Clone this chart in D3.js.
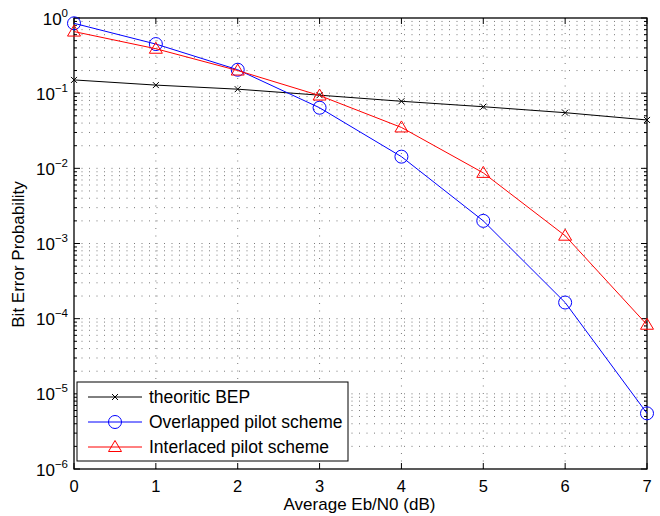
<!DOCTYPE html>
<html>
<head>
<meta charset="utf-8">
<script src="https://cdn.jsdelivr.net/npm/d3@7"></script>
<style>
  body { margin: 0; background: #fff; }
  text { font-family: "Liberation Sans", Arial, sans-serif; }
</style>
</head>
<body>
<div id="chart"></div>
<script>
var snr = [0, 1, 2, 3, 4, 5, 6, 7];
var theoretic = [0.150, 0.128, 0.113, 0.094, 0.078, 0.066, 0.055, 0.044];
var overlapped = [0.85, 0.45, 0.205, 0.064, 0.0143, 0.0020, 0.000164, 0.0000055];
var interlaced = [0.66, 0.39, 0.20, 0.093, 0.035, 0.0087, 0.00127, 0.000083];
var xTicks = [0, 1, 2, 3, 4, 5, 6, 7];
var yExps = [0, -1, -2, -3, -4, -5, -6];
var seriesNames = ["theoritic BEP", "Overlapped pilot scheme", "Interlaced pilot scheme"];

var svgWidth = 660, svgHeight = 516;
var margin = { top: 18, right: 13, bottom: 47, left: 74 };
var width = svgWidth - margin.left - margin.right;
var height = svgHeight - margin.top - margin.bottom;

var svg = d3.select("#chart").append("svg")
  .attr("width", svgWidth)
  .attr("height", svgHeight);

var g = svg.append("g")
  .attr("transform", `translate(${margin.left}, ${margin.top})`);

var xScale = d3.scaleLinear().domain([0, 7]).range([0, width]);
var yScale = d3.scaleLog().domain([1e-6, 1]).range([height, 0]);

// minor log positions
var minor = [];
yExps.forEach(function(e) {
  if (e === 0) return;
  for (var k = 2; k <= 9; k++) minor.push(k * Math.pow(10, e));
});

// grid (dotted, like matlab "grid on" + minor grid)
var grid = g.append("g").attr("stroke", "#222").attr("stroke-width", 0.8)
  .attr("stroke-dasharray", "1,6.5").attr("opacity", 0.75);
xTicks.slice(1, -1).forEach(function(t) {
  grid.append("line").attr("x1", xScale(t)).attr("x2", xScale(t))
    .attr("y1", 0).attr("y2", height);
});
yExps.slice(1, -1).forEach(function(e) {
  grid.append("line").attr("x1", 0).attr("x2", width)
    .attr("y1", yScale(Math.pow(10, e))).attr("y2", yScale(Math.pow(10, e)));
});
minor.forEach(function(v) {
  grid.append("line").attr("x1", 0).attr("x2", width)
    .attr("y1", yScale(v)).attr("y2", yScale(v));
});

// ticks inward on all sides
var ticks = g.append("g").attr("stroke", "#000").attr("stroke-width", 1);
xTicks.forEach(function(t) {
  var x = xScale(t);
  ticks.append("line").attr("x1", x).attr("x2", x).attr("y1", height).attr("y2", height - 6);
  ticks.append("line").attr("x1", x).attr("x2", x).attr("y1", 0).attr("y2", 6);
});
yExps.forEach(function(e) {
  var y = yScale(Math.pow(10, e));
  ticks.append("line").attr("x1", 0).attr("x2", 6).attr("y1", y).attr("y2", y);
  ticks.append("line").attr("x1", width).attr("x2", width - 6).attr("y1", y).attr("y2", y);
});
minor.forEach(function(v) {
  var y = yScale(v);
  ticks.append("line").attr("x1", 0).attr("x2", 3).attr("y1", y).attr("y2", y);
  ticks.append("line").attr("x1", width).attr("x2", width - 3).attr("y1", y).attr("y2", y);
});

// box
g.append("rect").attr("width", width).attr("height", height)
  .attr("fill", "none").attr("stroke", "#000").attr("stroke-width", 1.3);

// tick labels
xTicks.forEach(function(t) {
  g.append("text").attr("x", xScale(t)).attr("y", height + 23)
    .attr("text-anchor", "middle").attr("font-size", 16.5).text(t);
});
yExps.forEach(function(e) {
  var t = g.append("text").attr("x", -6).attr("y", yScale(Math.pow(10, e)) + 6.5)
    .attr("text-anchor", "end").attr("font-size", 17);
  t.append("tspan").text("10");
  t.append("tspan").attr("dy", -8).attr("font-size", 11.5).text(e === 0 ? "0" : "\u2212" + (-e));
});

// axis labels
g.append("text").attr("x", width / 2 - 1).attr("y", height + 41)
  .attr("text-anchor", "middle").attr("font-size", 17).text("Average Eb/N0 (dB)");
g.append("text").attr("transform", "rotate(-90)")
  .attr("x", -height / 2 - 11).attr("y", -50)
  .attr("text-anchor", "middle").attr("font-size", 17).text("Bit Error Probability");

var line = d3.line().x(function(d, i) { return xScale(snr[i]); }).y(function(d) { return yScale(d); });
var colors = ["#000", "#0000ff", "#ff0000"];
var allSeries = [theoretic, overlapped, interlaced];

function drawMarker(sel, type, x, y, color) {
  if (type === 0) {
    sel.append("path").attr("d", `M${x-3},${y-3}L${x+3},${y+3}M${x-3},${y+3}L${x+3},${y-3}`)
      .attr("stroke", color).attr("stroke-width", 1).attr("fill", "none");
  } else if (type === 1) {
    sel.append("circle").attr("cx", x).attr("cy", y).attr("r", 6.5)
      .attr("stroke", color).attr("stroke-width", 1).attr("fill", "none");
  } else {
    sel.append("path").attr("d", `M${x},${y-6.5}L${x+6.5},${y+4.5}L${x-6.5},${y+4.5}Z`)
      .attr("stroke", color).attr("stroke-width", 1).attr("fill", "none");
  }
}

allSeries.forEach(function(s, k) {
  g.append("path").datum(s).attr("d", line)
    .attr("fill", "none").attr("stroke", colors[k]).attr("stroke-width", 1);
  var mg = g.append("g");
  s.forEach(function(v, i) { drawMarker(mg, k, xScale(snr[i]), yScale(v), colors[k]); });
});

// legend
var lg = svg.append("g").attr("transform", "translate(77, 382)");
lg.append("rect").attr("width", 271).attr("height", 79)
  .attr("fill", "#fff").attr("stroke", "#000").attr("stroke-width", 1);
seriesNames.forEach(function(name, k) {
  var y = 15 + k * 25;
  lg.append("line").attr("x1", 11).attr("x2", 65).attr("y1", y).attr("y2", y)
    .attr("stroke", colors[k]).attr("stroke-width", 1);
  drawMarker(lg, k, 38, y, colors[k]);
  lg.append("text").attr("x", 72).attr("y", y + 6).attr("font-size", 17.5).text(name);
});
</script>
</body>
</html>
